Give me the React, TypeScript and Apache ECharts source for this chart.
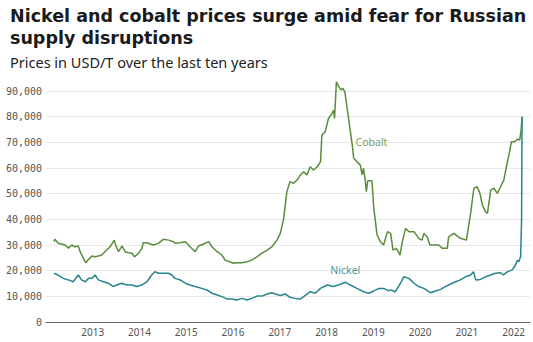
import React, { useEffect, useRef } from "react";
import * as echarts from "echarts";

const cobaltYears = [
  2012.17, 2012.19, 2012.26, 2012.41, 2012.48, 2012.55, 2012.62, 2012.69, 2012.73, 2012.8, 2012.85, 2012.91, 2012.98,
  2013.05, 2013.12, 2013.19, 2013.26, 2013.37, 2013.46, 2013.49, 2013.55, 2013.63, 2013.69, 2013.76, 2013.84, 2013.89, 2013.98,
  2014.05, 2014.08, 2014.16, 2014.23, 2014.3, 2014.4, 2014.51, 2014.62, 2014.73, 2014.76, 2014.87, 2014.98,
  2015.08, 2015.19, 2015.26, 2015.37, 2015.48, 2015.55, 2015.66, 2015.76, 2015.83, 2015.93,
  2016.01, 2016.08, 2016.19, 2016.3, 2016.4, 2016.51, 2016.62, 2016.73, 2016.83, 2016.94,
  2017.01, 2017.08, 2017.15, 2017.22, 2017.29, 2017.37, 2017.44, 2017.51, 2017.58, 2017.65, 2017.72, 2017.8, 2017.87, 2017.9, 2017.97,
  2018.04, 2018.12, 2018.15, 2018.17, 2018.21, 2018.26, 2018.31, 2018.35, 2018.39, 2018.44, 2018.51, 2018.55, 2018.58, 2018.65, 2018.72, 2018.76, 2018.79, 2018.83, 2018.85, 2018.88, 2018.97,
  2019.01, 2019.08, 2019.15, 2019.22, 2019.3, 2019.37, 2019.42, 2019.49, 2019.57, 2019.62, 2019.69, 2019.76, 2019.87, 2019.97,
  2020.04, 2020.08, 2020.15, 2020.21, 2020.4, 2020.47, 2020.58, 2020.61, 2020.72, 2020.86, 2020.99,
  2021.08, 2021.15, 2021.22, 2021.28, 2021.33, 2021.4, 2021.44, 2021.51, 2021.58, 2021.65, 2021.72, 2021.79, 2021.84, 2021.92, 2021.95,
  2022.02, 2022.08, 2022.13, 2022.16, 2022.18,
];
const cobaltValues = [
  31300, 32300, 30650, 30000, 28800, 30000, 29300, 29600, 27400, 24800, 23100, 24400, 25700,
  25400, 25700, 26100, 27400, 29300, 31900, 30000, 27400, 29600, 27400, 27000, 26800, 25400, 26800,
  28700, 30900, 30900, 30400, 30000, 30650, 32200, 31900, 31300, 30650, 30900, 31300,
  29300, 27400, 29600, 30400, 31300, 29300, 27400, 26100, 24100, 23500,
  22900, 23100, 23100, 23500, 24100, 25400, 26800, 28000, 29300, 31900,
  34500, 40000, 50800, 54700, 54000, 55300, 57300, 58500, 57300, 60500, 59200, 60500, 62400, 72800, 74100,
  79300, 81300, 82600, 79300, 93600, 91700, 90400, 91000, 89700, 83200, 74100, 68900, 63800, 62400, 61200, 57300, 59900, 54700, 50800, 55000, 55000,
  44300, 33900, 31300, 30000, 35200, 34500, 28000, 28700, 26100, 31300, 36500, 35200, 35200, 32600,
  31900, 34500, 33200, 30000, 30000, 28700, 28700, 33200, 34500, 32600, 31900,
  42300, 52100, 52700, 50100, 45600, 43000, 42300, 51400, 52100, 50100, 52700, 55300, 59900, 67000, 70200,
  70200, 71200, 70900, 74800, 80000,
];

const nickelYears = [
  2012.17, 2012.26, 2012.37, 2012.48, 2012.58, 2012.69, 2012.76, 2012.84, 2012.91, 2012.98,
  2013.05, 2013.12, 2013.23, 2013.33, 2013.44, 2013.51, 2013.62, 2013.73, 2013.84, 2013.94,
  2014.05, 2014.16, 2014.26, 2014.33, 2014.4, 2014.51, 2014.62, 2014.69, 2014.76, 2014.87, 2014.98,
  2015.08, 2015.19, 2015.33, 2015.44, 2015.55, 2015.66, 2015.76, 2015.87, 2015.98,
  2016.08, 2016.19, 2016.3, 2016.4, 2016.51, 2016.62, 2016.73, 2016.83, 2016.9,
  2017.01, 2017.12, 2017.22, 2017.33, 2017.44, 2017.51, 2017.65, 2017.76, 2017.87,
  2018.01, 2018.15, 2018.3, 2018.4, 2018.51, 2018.65, 2018.79, 2018.9,
  2019.01, 2019.12, 2019.22, 2019.33, 2019.37, 2019.47, 2019.58, 2019.65, 2019.76, 2019.87, 2019.97,
  2020.08, 2020.22, 2020.33, 2020.44, 2020.54, 2020.65, 2020.76, 2020.86, 2020.97,
  2021.08, 2021.14, 2021.19, 2021.29, 2021.4, 2021.51, 2021.61, 2021.72, 2021.78, 2021.87, 2021.97,
  2022.04, 2022.08, 2022.11, 2022.15, 2022.17, 2022.18,
];
const nickelValues = [
  19000, 18300, 17000, 16400, 15700, 18300, 16400, 15700, 17000, 17000,
  18300, 16400, 15700, 15100, 13800, 14400, 15100, 14400, 14400, 13800,
  14400, 15700, 18300, 19600, 19000, 19000, 19000, 18300, 17000, 16400, 15100,
  14400, 13800, 13100, 12500, 11200, 10500, 9900, 9000, 9000,
  8600, 9200, 8600, 9200, 10100, 10100, 10900, 11400, 10900,
  10300, 10900, 9600, 9200, 9000, 9900, 11800, 11200, 13100,
  14400, 13800, 14700, 15500, 14400, 13100, 11800, 11200,
  12100, 13100, 13100, 12100, 12500, 11800, 15100, 17600, 17000, 15100, 13800,
  13100, 11400, 12100, 12700, 13800, 14800, 15700, 16400, 17600,
  18300, 19600, 16400, 16600, 17600, 18300, 19000, 19200, 18300, 19600, 20300,
  22200, 24100, 23500, 25500, 40000, 80000,
];

const yTicks = [0, 10000, 20000, 30000, 40000, 50000, 60000, 70000, 80000, 90000];
const xYears = [2013, 2014, 2015, 2016, 2017, 2018, 2019, 2020, 2021, 2022];

const cobaltLabel = { text: "Cobalt", year: 2018.96, value: 70200 };
const nickelLabel = { text: "Nickel", year: 2018.4, value: 20300 };

const COBALT = "#5a8c3c";
const NICKEL = "#26868c";

export default function App() {
  const ref = useRef<HTMLDivElement>(null);
  useEffect(() => {
    if (!ref.current) return;
    const chart = echarts.init(ref.current, undefined, { renderer: "svg" });
    const zip = (xs: number[], ys: number[]) => xs.map((x, i) => [x, ys[i]]);
    chart.setOption({
      animation: false,
      backgroundColor: "#ffffff",
      title: [
        {
          text: "Nickel and cobalt prices surge amid fear for Russian\nsupply disruptions",
          left: 5,
          top: 0,
          textStyle: {
            fontFamily: "DejaVu Sans",
            fontSize: 17.5,
            fontWeight: "bold",
            color: "#1a1a1a",
            lineHeight: 22,
          },
        },
        {
          text: "Prices in USD/T over the last ten years",
          left: 5,
          top: 49,
          textStyle: {
            fontFamily: "Noto Sans",
            fontSize: 14.5,
            fontWeight: "normal",
            color: "#222",
          },
        },
      ],
      grid: { left: 46, right: 3, top: 91, bottom: 20, containLabel: false },
      xAxis: {
        type: "value",
        min: 2012,
        max: 2022.35,
        interval: 1,
        axisLine: { show: true, lineStyle: { color: "#666", width: 1 } },
        axisTick: { show: false },
        splitLine: { show: false },
        axisLabel: {
          margin: 5,
          color: "#555",
          fontSize: 10,
          fontFamily: "Noto Sans",
          formatter: (v: number) => (xYears.includes(v) ? String(v) : ""),
        },
      },
      yAxis: {
        type: "value",
        min: yTicks[0],
        max: yTicks[yTicks.length - 1],
        interval: 10000,
        axisLine: { show: false },
        axisTick: { show: false },
        splitLine: { show: true, lineStyle: { color: "#e8e8e8", width: 1 } },
        axisLabel: {
          margin: 4,
          color: "#555",
          fontSize: 10,
          fontFamily: "DejaVu Sans Mono",
          formatter: (v: number) => v.toLocaleString("en-US"),
        },
      },
      series: [
        {
          name: "Cobalt",
          type: "line",
          data: zip(cobaltYears, cobaltValues),
          showSymbol: false,
          symbol: "none",
          clip: false,
          lineStyle: { color: COBALT, width: 1.5 },
          markPoint: {
            symbol: "circle",
            symbolSize: 0,
            data: [{ coord: [cobaltLabel.year, cobaltLabel.value] }],
            label: {
              show: true,
              position: "inside",
              formatter: cobaltLabel.text,
              color: "#78a064",
              fontSize: 10.5,
              fontFamily: "Noto Sans",
            },
          },
        },
        {
          name: "Nickel",
          type: "line",
          data: zip(nickelYears, nickelValues),
          showSymbol: false,
          symbol: "none",
          clip: false,
          lineStyle: { color: NICKEL, width: 1.5 },
          markPoint: {
            symbol: "circle",
            symbolSize: 0,
            data: [{ coord: [nickelLabel.year, nickelLabel.value] }],
            label: {
              show: true,
              position: "inside",
              formatter: nickelLabel.text,
              color: "#3f9aa3",
              fontSize: 10.5,
              fontFamily: "Noto Sans",
            },
          },
        },
      ],
    });
    return () => chart.dispose();
  }, []);
  return <div ref={ref} style={{ width: 533, height: 342, position: "absolute", left: 0, top: 0 }} />;
}
